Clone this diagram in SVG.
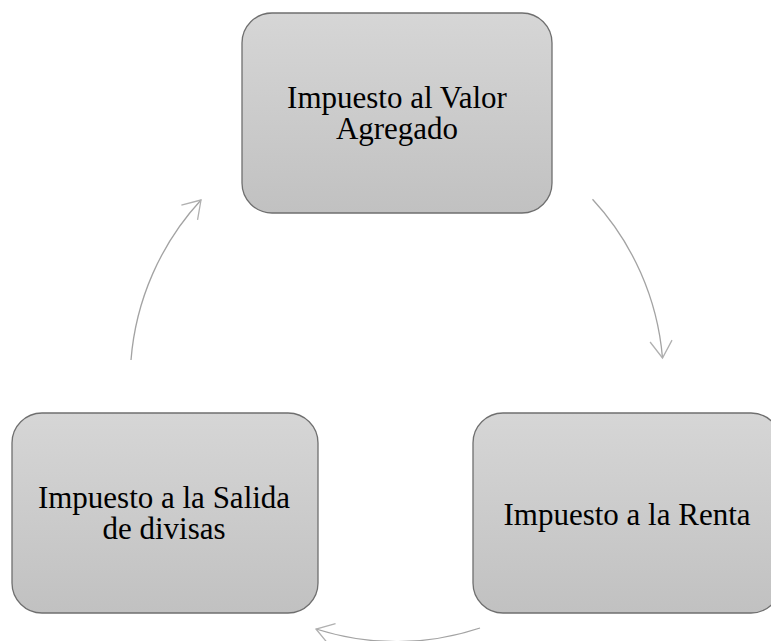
<svg xmlns="http://www.w3.org/2000/svg" width="771" height="641" viewBox="0 0 771 641">
<defs>
<linearGradient id="g" x1="0" y1="0" x2="0" y2="1">
<stop offset="0" stop-color="#d6d6d6"/>
<stop offset="1" stop-color="#c1c1c1"/>
</linearGradient>
<marker id="ah" markerUnits="userSpaceOnUse" markerWidth="30" markerHeight="30" refX="0" refY="0" viewBox="-25 -15 30 30" orient="auto" overflow="visible">
<path d="M-17,-11 L0,0 L-17,11" fill="none" stroke="#b0b0b0" stroke-width="1.3"/>
</marker>
<style>
.box{fill:url(#g);stroke:#6f6f6f;stroke-width:1.3}
.lbl{font-family:"Liberation Serif","Times New Roman",serif;font-size:31px;fill:#000;text-anchor:middle}
.arc{fill:none;stroke:#a3a3a3;stroke-width:1.3;marker-end:url(#ah)}
</style>
</defs>
<rect width="771" height="641" fill="#fff"/>
<g id="connectors">
<path class="arc" d="M592.5,199.3 A267,267 0 0 1 662.5,358"/>
<path class="arc" d="M480,628 A263,263 0 0 1 316,629"/>
<path class="arc" d="M131,360 A267,267 0 0 1 201,200"/>
</g>
<g id="node-iva">
<rect class="box" x="242" y="13" width="310" height="200" rx="30" ry="30"/>
<text class="lbl" x="397" y="108">Impuesto al Valor</text>
<text class="lbl" x="397" y="139">Agregado</text>
</g>
<g id="node-renta">
<rect class="box" x="473" y="413" width="308" height="200" rx="30" ry="30"/>
<text class="lbl" x="627" y="525">Impuesto a la Renta</text>
</g>
<g id="node-isd">
<rect class="box" x="12" y="413" width="306" height="200" rx="30" ry="30"/>
<text class="lbl" x="164" y="508">Impuesto a la Salida</text>
<text class="lbl" x="164" y="539">de divisas</text>
</g>
</svg>
